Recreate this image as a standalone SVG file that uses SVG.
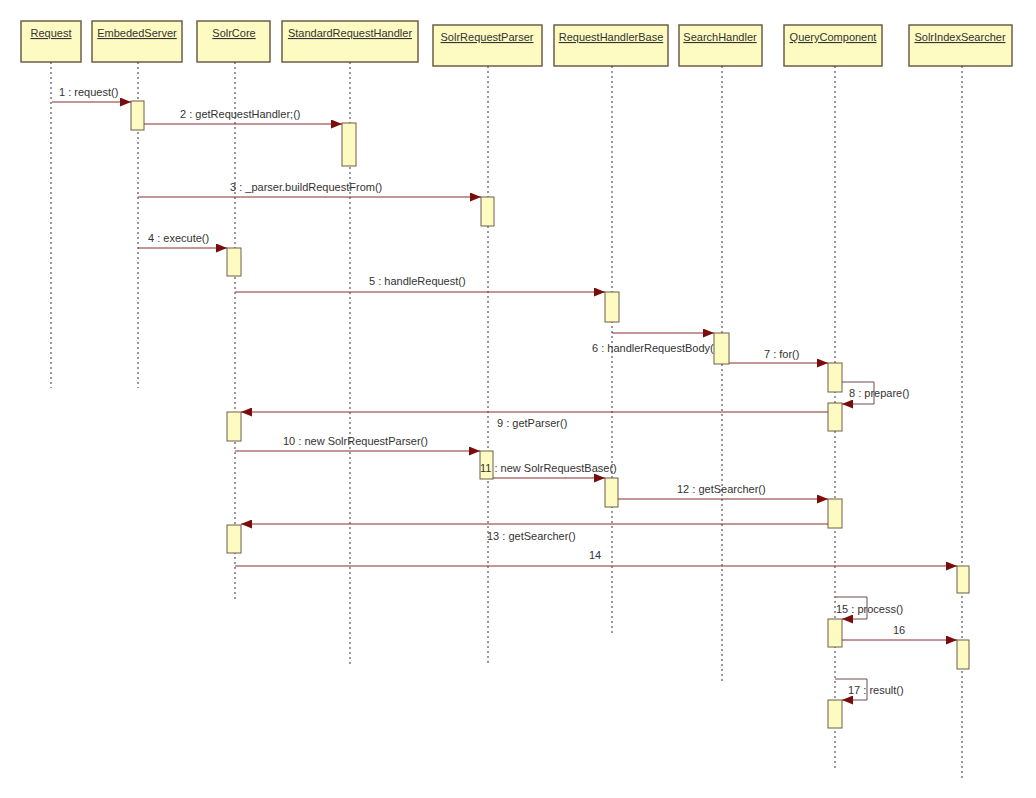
<svg xmlns="http://www.w3.org/2000/svg" width="1036" height="798" viewBox="0 0 1036 798">
<style>
.hdr{fill:#fdfbc2;stroke:#6e5e48;stroke-width:1.5}
.act{fill:#fdfbc2;stroke:#6e5e48;stroke-width:1}
.ht{font-family:"Liberation Sans",Arial,sans-serif;font-size:11px;fill:#333;text-anchor:middle;text-decoration:underline}
.life{stroke:#333;stroke-width:1;stroke-dasharray:2,3;fill:none}
.msg{stroke:#8a2c2c;stroke-width:1;fill:none}
.loop{stroke:#6a4a4a;stroke-width:1;fill:none}
.lbl{font-family:"Liberation Sans",Arial,sans-serif;font-size:11px;fill:#333}
</style>
<defs>
<marker id="ah" markerWidth="11" markerHeight="9" refX="11" refY="4.5" orient="auto" markerUnits="userSpaceOnUse">
<path d="M0,0 L11,4.5 L0,9 z" fill="#7a0c0c"/>
</marker>
</defs>
<rect width="1036" height="798" fill="#ffffff"/>

<g id="Request">
<rect class="hdr" x="21" y="21" width="60" height="41"/>
<text class="ht" x="51" y="37">Request</text>
<line class="life" x1="51" y1="62" x2="51" y2="388"/>
</g>
<g id="EmbededServer">
<rect class="hdr" x="92" y="21" width="90" height="41"/>
<text class="ht" x="137" y="37">EmbededServer</text>
<line class="life" x1="138" y1="62" x2="138" y2="388"/>
<rect class="act" x="131" y="101" width="13" height="29"/>
</g>
<g id="SolrCore">
<rect class="hdr" x="197" y="21" width="73" height="41"/>
<text class="ht" x="234" y="37">SolrCore</text>
<line class="life" x1="235" y1="62" x2="235" y2="600"/>
<rect class="act" x="227" y="248" width="14" height="28"/>
<rect class="act" x="227" y="412" width="14" height="29"/>
<rect class="act" x="227" y="525" width="14" height="28"/>
</g>
<g id="StandardRequestHandler">
<rect class="hdr" x="282" y="21" width="136" height="41"/>
<text class="ht" x="350" y="37">StandardRequestHandler</text>
<line class="life" x1="350" y1="62" x2="350" y2="665"/>
<rect class="act" x="342" y="123" width="14" height="43"/>
</g>
<g id="SolrRequestParser">
<rect class="hdr" x="433" y="25" width="109" height="41"/>
<text class="ht" x="487" y="41">SolrRequestParser</text>
<line class="life" x1="488" y1="66" x2="488" y2="665"/>
<rect class="act" x="481" y="197" width="13" height="29"/>
<rect class="act" x="480" y="451" width="13" height="28"/>
</g>
<g id="RequestHandlerBase">
<rect class="hdr" x="554" y="25" width="114" height="41"/>
<text class="ht" x="611" y="41">RequestHandlerBase</text>
<line class="life" x1="612" y1="66" x2="612" y2="636"/>
<rect class="act" x="605" y="292" width="14" height="30"/>
<rect class="act" x="605" y="478" width="13" height="29"/>
</g>
<g id="QueryComponent">
<rect class="hdr" x="784" y="25" width="98" height="41"/>
<text class="ht" x="833" y="41">QueryComponent</text>
<line class="life" x1="835" y1="66" x2="835" y2="768"/>
<rect class="act" x="828" y="363" width="14" height="29"/>
<rect class="act" x="828" y="403" width="14" height="28"/>
<rect class="act" x="828" y="499" width="14" height="29"/>
<rect class="act" x="828" y="619" width="14" height="28"/>
<rect class="act" x="828" y="700" width="14" height="28"/>
</g>
<g id="SolrIndexSearcher">
<rect class="hdr" x="909" y="25" width="103" height="41"/>
<text class="ht" x="960" y="41">SolrIndexSearcher</text>
<line class="life" x1="962" y1="66" x2="962" y2="778"/>
<rect class="act" x="957" y="566" width="12" height="27"/>
<rect class="act" x="957" y="640" width="12" height="29"/>
</g>

<g id="connectors">
<line class="msg" x1="52" y1="102" x2="131" y2="102" marker-end="url(#ah)"/>
<text class="lbl" x="59" y="96">1 : request()</text>

<line class="msg" x1="144" y1="124" x2="342" y2="124" marker-end="url(#ah)"/>
<text class="lbl" x="180" y="118">2 : getRequestHandler;()</text>

<line class="msg" x1="138" y1="197" x2="481" y2="197" marker-end="url(#ah)"/>
<text class="lbl" x="230" y="191">3 : _parser.buildRequestFrom()</text>

<line class="msg" x1="138" y1="248" x2="227" y2="248" marker-end="url(#ah)"/>
<text class="lbl" x="148" y="242">4 : execute()</text>

<line class="msg" x1="235" y1="292" x2="605" y2="292" marker-end="url(#ah)"/>
<text class="lbl" x="369" y="285">5 : handleRequest()</text>

<line class="msg" x1="612" y1="333" x2="714" y2="333" marker-end="url(#ah)"/>
<text class="lbl" x="592" y="352">6 : handlerRequestBody()</text>

<line class="msg" x1="722" y1="363" x2="828" y2="363" marker-end="url(#ah)"/>
<text class="lbl" x="764" y="358">7 : for()</text>

<path class="loop" d="M842,382 L874,382 L874,404 L842,404" marker-end="url(#ah)"/>
<text class="lbl" x="849" y="397">8 : prepare()</text>

<line class="msg" x1="828" y1="412" x2="241" y2="412" marker-end="url(#ah)"/>
<text class="lbl" x="497" y="427">9 : getParser()</text>

<line class="msg" x1="235" y1="451" x2="480" y2="451" marker-end="url(#ah)"/>
<text class="lbl" x="283" y="445">10 : new SolrRequestParser()</text>

<line class="msg" x1="493" y1="478" x2="605" y2="478" marker-end="url(#ah)"/>
<text class="lbl" x="480" y="472">11 : new SolrRequestBase()</text>

<line class="msg" x1="618" y1="499" x2="828" y2="499" marker-end="url(#ah)"/>
<text class="lbl" x="677" y="493">12 : getSearcher()</text>

<line class="msg" x1="828" y1="524" x2="241" y2="524" marker-end="url(#ah)"/>
<text class="lbl" x="487" y="540">13 : getSearcher()</text>

<line class="msg" x1="235" y1="566" x2="957" y2="566" marker-end="url(#ah)"/>
<text class="lbl" x="589" y="559">14</text>

<path class="loop" d="M835,597 L867,597 L867,619 L842,619" marker-end="url(#ah)"/>
<text class="lbl" x="836" y="613">15 : process()</text>

<line class="msg" x1="842" y1="640" x2="957" y2="640" marker-end="url(#ah)"/>
<text class="lbl" x="893" y="634">16</text>

<path class="loop" d="M835,679 L867,679 L867,700 L842,700" marker-end="url(#ah)"/>
<text class="lbl" x="848" y="694">17 : result()</text>
</g>

<g id="SearchHandler">
<rect class="hdr" x="679" y="25" width="83" height="41"/>
<text class="ht" x="720" y="41">SearchHandler</text>
<line class="life" x1="722" y1="66" x2="722" y2="333"/>
<line class="life" x1="722" y1="364" x2="722" y2="682"/>
<rect class="act" x="714" y="333" width="15" height="31"/>
</g>
</svg>
